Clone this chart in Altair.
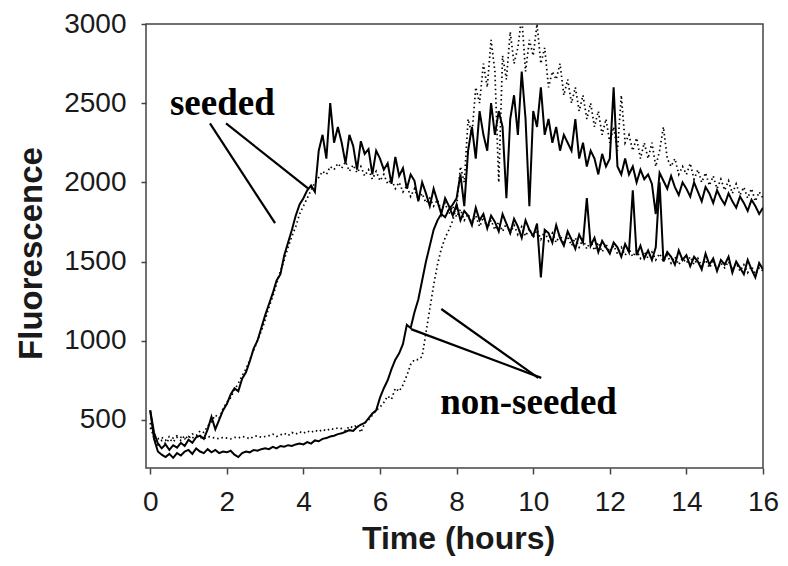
import altair as alt
import pandas as pd

# time grid (hours), one reading every 0.1 h
TIME = [round(i * 0.1, 1) for i in range(161)]

SEEDED_SOLID = [
    560, 420, 350, 320, 345, 310, 340, 325, 355, 335,
    375, 355, 390, 400, 380, 440, 520, 440, 500, 560,
    600, 660, 700, 680, 760, 800, 870, 950, 1000, 1080,
    1160, 1230, 1300, 1380, 1420, 1540, 1620, 1700, 1790, 1860,
    1900, 1950, 1980, 1940, 2200, 2300, 2150, 2500, 2250, 2350,
    2250, 2120, 2300, 2230, 2080, 2260, 2180, 2210, 2050, 2200,
    2150, 2080, 2120, 1990, 2160, 2040, 2090, 1960, 2050, 2010,
    1880, 2000, 1930, 1850, 1960, 1880, 1800, 1900, 1850, 1790,
    1860, 1760, 1820, 1790, 1730, 1840, 1760, 1800, 1710, 1790,
    1750, 1690, 1800, 1740, 1680, 1770, 1720, 1650, 1760, 1700,
    1660, 1740, 1400, 1700, 1680, 1620, 1730, 1650, 1600, 1690,
    1640, 1580, 1670, 1620, 1900, 1600, 1650, 1560, 1630, 1590,
    1550, 1620, 1590, 1530, 1610, 1560, 1950, 1540, 1600, 1520,
    1570, 1510, 1590, 2000, 1500, 1560, 1530, 1480, 1570, 1510,
    1540, 1470, 1530, 1500, 1450, 1550, 1480, 1520, 1440, 1510,
    1480, 1530, 1430, 1500, 1460, 1420, 1510, 1450, 1400, 1490,
    1450,
]

SEEDED_DOTTED = [
    480, 380, 330, 370, 350, 380, 360, 390, 370, 400,
    380, 410, 400, 430, 420, 460, 490, 530, 510, 570,
    610, 640, 690, 730, 780, 820, 880, 940, 1000, 1060,
    1130, 1210, 1280, 1360, 1440, 1510, 1590, 1660, 1720, 1800,
    1850, 1900, 1950, 2000, 2030, 2070, 2050, 2100, 2080, 2120,
    2090, 2130, 2070, 2110, 2060, 2100, 2040, 2080, 2020, 2070,
    2010, 2050, 1990, 2020, 1960, 2000, 1940, 1980, 1910, 1960,
    1890, 1930, 1870, 1900, 1850, 1890, 1820, 1870, 1800, 1850,
    1780, 1830, 1760, 1800, 1740, 1790, 1720, 1780, 1710, 1760,
    1700, 1750, 1690, 1740, 1680, 1730, 1670, 1720, 1660, 1710,
    1650, 1700, 1640, 1690, 1630, 1680, 1620, 1670, 1610, 1660,
    1600, 1650, 1590, 1640, 1580, 1630, 1570, 1620, 1560, 1610,
    1560, 1600, 1550, 1590, 1540, 1580, 1530, 1570, 1520, 1560,
    1520, 1560, 1510, 1550, 1500, 1540, 1490, 1530, 1480, 1520,
    1490, 1530, 1480, 1520, 1470, 1510, 1460, 1500, 1450, 1490,
    1460, 1500, 1450, 1490, 1440, 1480, 1430, 1470, 1420, 1460,
    1440,
]

NONSEEDED_SOLID = [
    560, 380, 300, 280, 265, 285, 260, 290, 275, 300,
    310, 285, 320, 300, 290, 315, 295, 310, 290, 300,
    295, 305, 280, 265, 290, 300, 295, 310, 305, 315,
    320, 315, 330, 320, 335, 330, 340, 335, 345, 350,
    345, 360, 350, 370, 365, 380, 385, 395, 400, 410,
    415, 425, 435, 430, 455, 470, 480, 510, 540, 560,
    640, 700, 750, 820, 880, 920, 980, 1100, 1080, 1180,
    1260, 1380, 1500, 1600, 1700, 1760, 1800, 1780, 1830, 1860,
    1900, 2050, 1850, 2200, 2350, 2150, 2450, 2300, 2200, 2500,
    2300, 2450, 2350, 1900, 2400, 2550, 2300, 2700, 2400, 1850,
    2450, 2350, 2600, 2300, 2400, 2250, 2350, 2200, 2300, 2250,
    2200, 2400, 2150, 2250, 2100, 2200, 2150, 2050, 2180, 2100,
    2150, 2600, 2100, 2050, 2150, 2050, 2100, 2000, 2080, 2020,
    2050, 1990, 1800, 2060, 2010, 1960, 2040, 1970, 1920, 2000,
    1960, 1910, 2000, 1940, 1880, 1970, 1930, 1870, 1950, 1900,
    1860, 1930, 1880, 1840, 1910, 1870, 1820, 1890, 1850, 1800,
    1840,
]

NONSEEDED_DOTTED = [
    450, 400, 380, 390, 370, 395, 385, 400, 390, 380,
    395, 385, 400, 390, 380, 395, 390, 385, 380, 390,
    385, 380, 390, 385, 395, 390, 380, 395, 400, 390,
    395, 400, 410, 395, 405, 415, 400, 420, 410, 425,
    415, 430, 420, 435, 425, 440, 430, 445, 440, 450,
    445, 430, 460, 450, 470, 420, 480, 500, 530, 560,
    580, 610, 650, 630, 700, 680, 720, 780, 850, 880,
    880, 900, 1050, 1200, 1350, 1480, 1580, 1650, 1700, 1760,
    1850, 2100, 2000, 2400, 2300, 2600, 2500, 2750, 2600, 2900,
    2700, 2000, 2800, 2650, 2950, 2750, 2850, 3050, 2700, 2900,
    2800, 3000, 2750, 2850, 2600, 2700, 2650, 2750, 2550, 2650,
    2500, 2600, 2450, 2550, 2400, 2500, 2350, 2450, 2300, 2400,
    2250, 2350, 2200, 2550, 2250, 2300, 2200, 2280, 2150, 2250,
    2150, 2250, 2100, 2200, 2350, 2150, 2100, 2150, 2050, 2100,
    2050, 2120, 2020, 2080, 2000, 2060, 1980, 2040, 1960, 2020,
    1950, 2010, 1930, 1990, 1920, 1970, 1900, 1960, 1880, 1940,
    1900,
]

# annotation pointer lines (time, fluorescence) -> (time, fluorescence)
LINE_X1 = [1.56, 1.98, 10.21, 10.13]
LINE_Y1 = [2372, 2372, 765, 765]
LINE_X2 = [3.26, 4.12, 6.81, 7.60]
LINE_Y2 = [1742, 1962, 1073, 1200]

LABEL_TEXT = ["seeded", "non-seeded"]
LABEL_X = [0.515, 7.57]
LABEL_Y = [2428, 538]

X_TICKS = [0, 2, 4, 6, 8, 10, 12, 14, 16]
Y_TICKS = [500, 1000, 1500, 2000, 2500, 3000]

rows = []
for name, style, vals in [
    ("seeded A", "dotted", SEEDED_DOTTED),
    ("non-seeded A", "dotted", NONSEEDED_DOTTED),
    ("seeded B", "solid", SEEDED_SOLID),
    ("non-seeded B", "solid", NONSEEDED_SOLID),
]:
    for t, v in zip(TIME, vals):
        rows.append({"series": name, "style": style, "t": t, "v": v})
df = pd.DataFrame(rows)

lines_df = pd.DataFrame({"x": LINE_X1, "y": LINE_Y1, "x2": LINE_X2, "y2": LINE_Y2})
labels_df = pd.DataFrame({"label": LABEL_TEXT, "x": LABEL_X, "y": LABEL_Y})

x_scale = alt.Scale(domain=[-0.11, 16], nice=False, zero=False)
y_scale = alt.Scale(domain=[196, 3000], nice=False, zero=False)

x_axis = alt.Axis(
    values=X_TICKS, title="Time (hours)", tickSize=6, labelPadding=14,
    titleX=312, titleY=80, titleAlign="center", titleBaseline="alphabetic",
    titleFontSize=32, labelFlush=False, format="d",
)
y_axis = alt.Axis(
    values=Y_TICKS, title="Fluorescence", tickSize=5, labelPadding=15,
    titleX=-105, titleY=229, titleAngle=270, titleAlign="center",
    titleBaseline="alphabetic", titleFontSize=33, labelFlush=False, format="d",
)

X_ENC = lambda f: alt.X(f, scale=x_scale, axis=x_axis)
Y_ENC = lambda f: alt.Y(f, scale=y_scale, axis=y_axis)

dotted = alt.Chart(df).transform_filter(alt.datum.style == "dotted").mark_line(
    color="black", strokeWidth=1.7, strokeDash=[1.5, 3], clip=True
).encode(x=X_ENC("t:Q"), y=Y_ENC("v:Q"), detail="series:N")

solid = alt.Chart(df).transform_filter(alt.datum.style == "solid").mark_line(
    color="black", strokeWidth=2.0, clip=True
).encode(x=X_ENC("t:Q"), y=Y_ENC("v:Q"), detail="series:N")

pointers = alt.Chart(lines_df).mark_rule(color="black", strokeWidth=2.2).encode(
    x=X_ENC("x:Q"), y=Y_ENC("y:Q"), x2="x2:Q", y2="y2:Q",
)

labels = alt.Chart(labels_df).mark_text(
    font="Liberation Serif", fontWeight="bold", fontSize=37,
    align="left", baseline="alphabetic", color="black",
).encode(x=X_ENC("x:Q"), y=Y_ENC("y:Q"), text="label:N")

chart = alt.layer(dotted, solid, pointers, labels).properties(
    width=617,
    height=444,
    autosize=alt.AutoSizeParams(type="none"),
    padding={"left": 138, "top": 16, "right": 17, "bottom": 89},
).configure_view(
    stroke="#444444", strokeWidth=1.5
).configure_axis(
    domain=False, grid=False, tickColor="#444444", tickWidth=1.5,
    labelFont="Liberation Sans", labelFontSize=28, labelColor="#1a1a1a",
    titleFont="Liberation Sans", titleFontWeight="bold", titleColor="#1a1a1a",
)

chart.save("out.html", embed_options={"renderer": "svg", "actions": False})
